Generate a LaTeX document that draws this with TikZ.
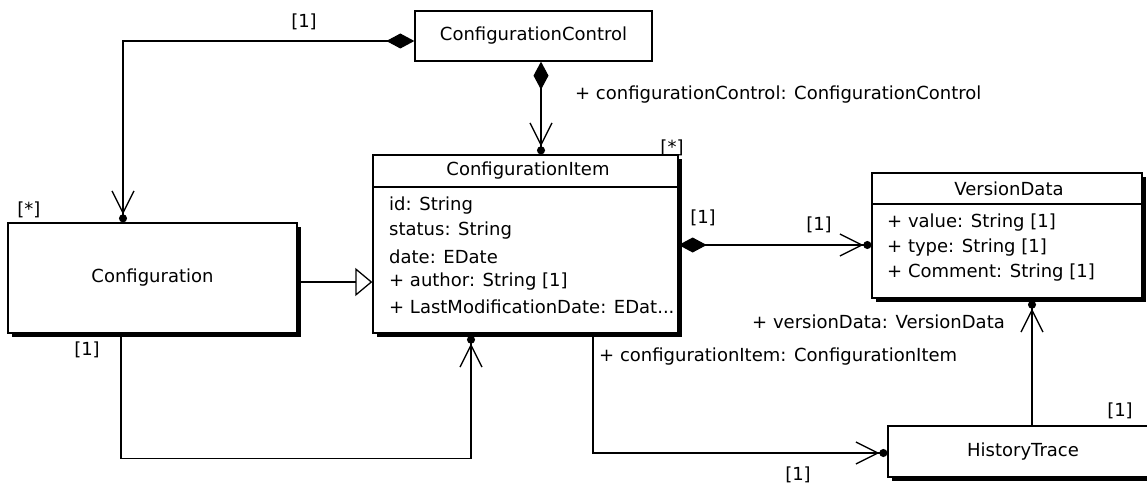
\documentclass[tikz,border=0pt]{standalone}
\usepackage{fontspec}
\setmainfont{DejaVu Sans}
\usetikzlibrary{arrows.meta,shadows}
\tikzset{
  conn/.style={line width=1.3pt},
  nav/.style={conn,-{Straight Barb[length=22pt,width=22pt,line width=1.3pt]Circle[length=8pt]}},
  compnav/.style={conn,{Diamond[length=28pt,width=15pt]}-{Straight Barb[length=22pt,width=22pt,line width=1.3pt]Circle[length=8pt]}},
  gen/.style={conn,-{Triangle[open,fill=white,length=17pt,width=28pt,line width=1.3pt]}},
  classbox/.style={draw,line width=1.3pt,fill=white,inner sep=0pt},
  shadowbox/.style={classbox,drop shadow={shadow xshift=4pt,shadow yshift=-4pt,opacity=1,fill=black}},
  lbl/.style={inner sep=0pt},
  attr/.style={inner sep=0pt,anchor=west}
}
\begin{document}
\begin{tikzpicture}[x=1pt,y=-1pt,font=\fontsize{18pt}{22pt}\selectfont]
\useasboundingbox (0,0) rectangle (1147,486);
\fill[white] (0,0) rectangle (1147,486);
\clip (0,0) rectangle (1147,486);

% classes
\node[classbox,minimum width=237pt,minimum height=50pt] (cc) at (533.5,36) {ConfigurationControl};
\node[shadowbox,minimum width=289pt,minimum height=110pt] (conf) at (152.5,278) {Configuration};
\node[shadowbox,minimum width=305pt,minimum height=178pt] (ci) at (525.5,244) {};
\draw[line width=1.3pt] (ci.west |- 0,187) -- (ci.east |- 0,187);
\node[lbl] (cit) at (528,171) {ConfigurationItem};
\node[attr] (a1) at (389,206) {id: String};
\node[attr] (a2) at (389,231) {status: String};
\node[attr] (a3) at (389,257) {date: EDate};
\node[attr] (a4) at (389,282) {+ author: String [1]};
\node[attr] (a5) at (389,307) {+ LastModificationDate: EDat...};

\node[shadowbox,minimum width=270pt,minimum height=125pt] (vd) at (1007,235.5) {};
\draw[line width=1.3pt] (vd.west |- 0,204) -- (vd.east |- 0,204);
\node[lbl] (vdt) at (1009,189) {VersionData};
\node[attr] (b1) at (887,223) {+ value: String [1]};
\node[attr] (b2) at (887,248) {+ type: String [1]};
\node[attr] (b3) at (887,273) {+ Comment: String [1]};

\node[shadowbox,minimum width=270pt,minimum height=51pt] (ht) at (1023,451.5) {HistoryTrace};

% connectors
\draw[compnav] ([yshift=-5pt]cc.west) -| ([xshift=-29.5pt]conf.north);
\draw[compnav] ([xshift=7.5pt]cc.south) -- ([xshift=7.5pt]cc.south |- ci.north);
\draw[gen] ([yshift=-4pt]conf.east) -- ([yshift=-4pt]conf.east -| ci.west);
\draw[nav] ([xshift=-31.5pt]conf.south) -- ++(0,125) -| ([xshift=-54.5pt,yshift=-2pt]ci.south);
\draw[compnav] ([yshift=-1pt]ci.east) -- ([yshift=-1pt]ci.east -| vd.west);
\draw[nav] ([xshift=67.5pt]ci.south) |- ([yshift=-1.5pt]ht.west);
\draw[nav] ([xshift=9pt]ht.north) -- ([xshift=9pt,yshift=-2pt]ht.north |- vd.south);

% labels
\node[lbl] (l1) at (304,22) {[1]};
\node[lbl] (l2) at (29,210) {[*]};
\node[lbl,anchor=west] (l3) at (575,95) {+ configurationControl: ConfigurationControl};
\node[lbl] (l4) at (672,148) {[*]};
\node[lbl] (l5) at (703,218) {[1]};
\node[lbl] (l6) at (819,225) {[1]};
\node[lbl,anchor=east] (l7) at (1005,322) {+ versionData: VersionData};
\node[lbl,anchor=west] (l8) at (599,357) {+ configurationItem: ConfigurationItem};
\node[lbl] (l9) at (87,350) {[1]};
\node[lbl] (l10) at (798,475) {[1]};
\node[lbl] (l11) at (1120,411) {[1]};
\end{tikzpicture}
\end{document}
